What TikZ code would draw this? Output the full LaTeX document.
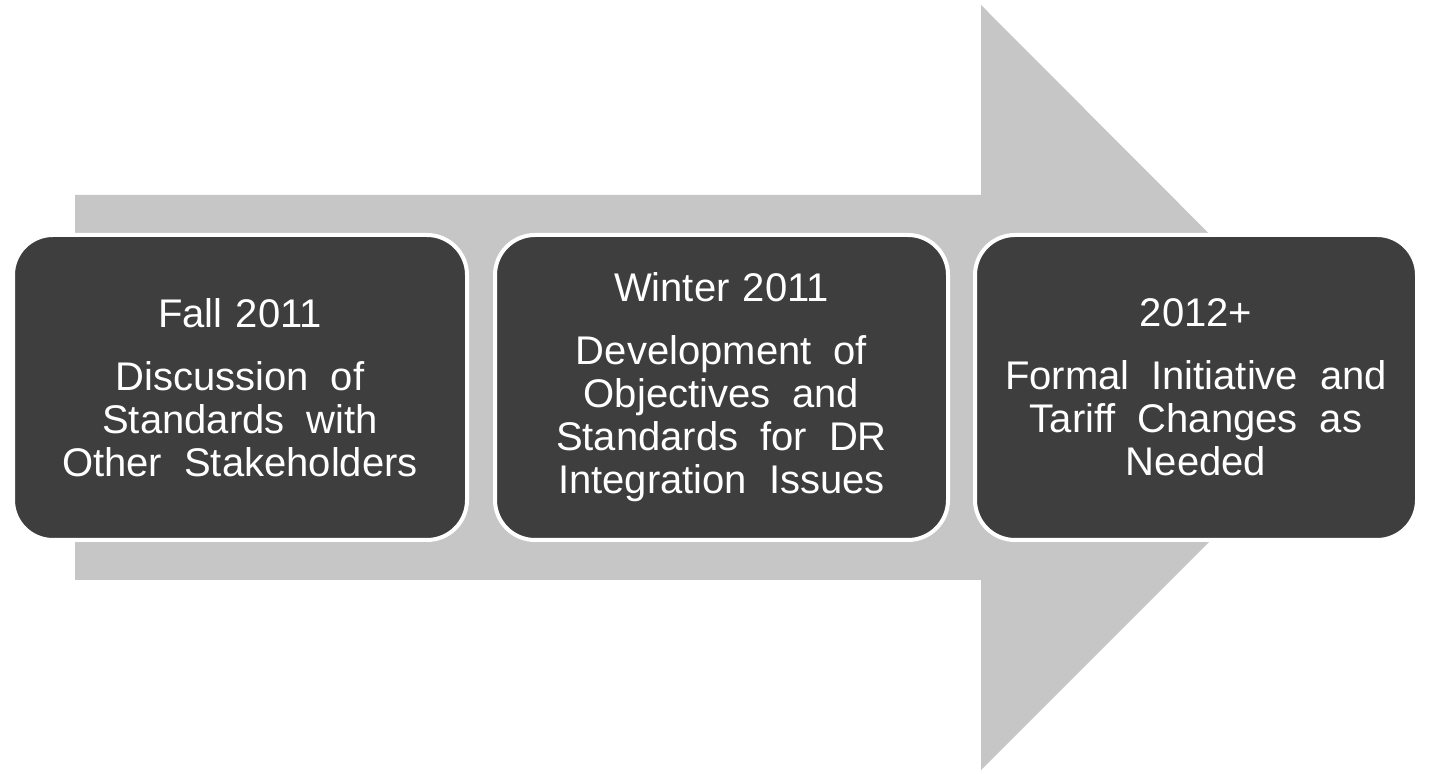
\documentclass[tikz,border=0pt]{standalone}
\usepackage{fontspec}
\setmainfont{Liberation Sans}
\definecolor{arrowgray}{HTML}{C6C6C6}
\definecolor{stagegray}{HTML}{3E3E3E}
\newcommand{\widesp}{\spaceskip=0.55em\relax}

\begin{document}
\begin{tikzpicture}[
  x=0.5pt, y=-0.5pt,
  stage/.style={rectangle, draw=white, line width=2pt, fill=stagegray,
    rounded corners=20pt, minimum width=227pt, minimum height=152.5pt,
    inner sep=2pt, text width=215pt, align=center, text=white,
    font=\fontsize{20}{21.5}\selectfont},
  timeline/.style={fill=arrowgray}
]
\useasboundingbox (0,0) rectangle (1435,774);

% big arrow behind the stages
\fill[timeline] (75,195) -- (981,195) -- (981,5) -- (1363,388)
  -- (981,770) -- (981,580) -- (75,580) -- cycle;

\node[stage] (fall) at (240,387.5)
  {Fall 2011\\[10pt]\widesp Discussion of\\Standards with\\Other Stakeholders};
\node[stage, minimum width=226.5pt] (winter) at (721.5,387.5)
  {Winter 2011\\[10pt]\widesp Development of\\Objectives and\\Standards for DR\\Integration Issues};
\node[stage, minimum width=221pt] (later) at (1196,387.5)
  {2012+\\[10pt]\widesp Formal Initiative and\\Tariff Changes as\\Needed};
\end{tikzpicture}
\end{document}
